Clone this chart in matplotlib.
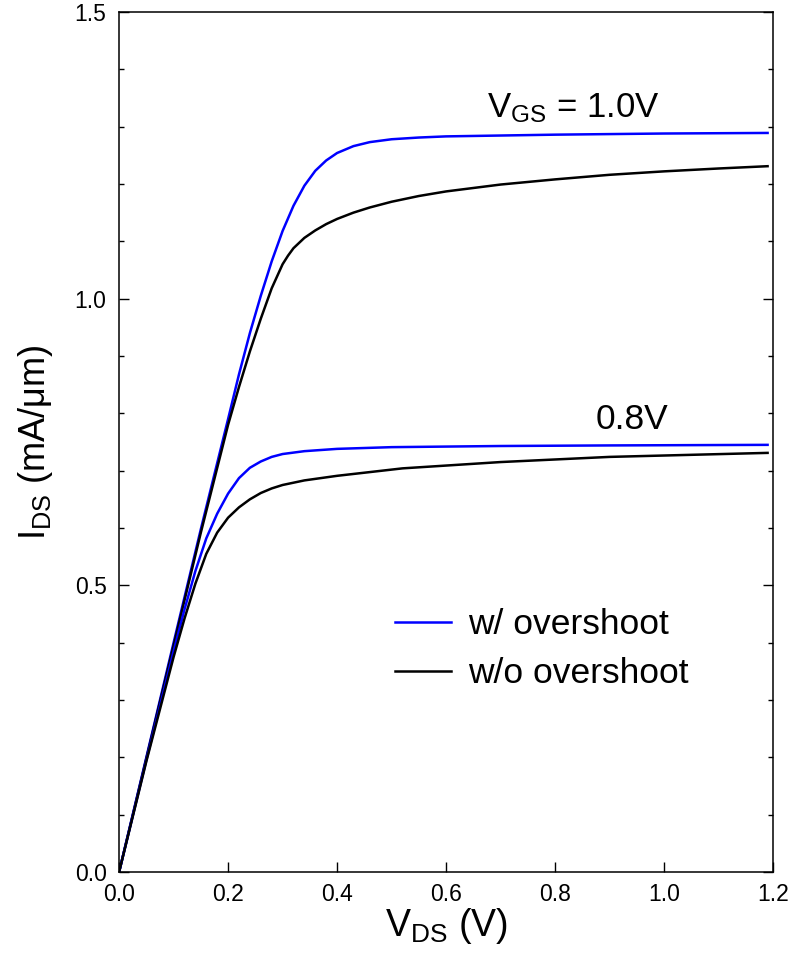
import matplotlib
matplotlib.use("Agg")
import matplotlib.pyplot as plt
from matplotlib.ticker import MultipleLocator

plt.rcParams['font.family'] = ['Liberation Sans', 'DejaVu Sans']
plt.rcParams['mathtext.fontset'] = 'custom'
plt.rcParams['mathtext.rm'] = 'Liberation Sans'
plt.rcParams['mathtext.it'] = 'Liberation Sans'

# values (V_DS in V, I_DS in mA/um)
vds_w10 = [0, 0.05, 0.10, 0.15, 0.20, 0.22, 0.24, 0.26, 0.28, 0.30, 0.32,
           0.34, 0.36, 0.38, 0.40, 0.43, 0.46, 0.50, 0.55, 0.60, 0.80, 1.00,
           1.19]
ids_w10 = [0, 0.200, 0.400, 0.598, 0.790, 0.868, 0.940, 1.005, 1.065, 1.118,
           1.162, 1.197, 1.223, 1.241, 1.254, 1.266, 1.273, 1.278, 1.281,
           1.283, 1.286, 1.288, 1.289]

vds_wo10 = [0, 0.05, 0.10, 0.15, 0.20, 0.22, 0.24, 0.26, 0.28, 0.30, 0.31,
            0.32, 0.34, 0.36, 0.38, 0.40, 0.43, 0.46, 0.50, 0.55, 0.60, 0.70,
            0.80, 0.90, 1.00, 1.10, 1.19]
ids_wo10 = [0, 0.198, 0.395, 0.592, 0.780, 0.846, 0.908, 0.965, 1.018, 1.060,
            1.075, 1.088, 1.106, 1.119, 1.130, 1.139, 1.150, 1.159, 1.169,
            1.179, 1.187, 1.199, 1.208, 1.216, 1.222, 1.227, 1.231]

vds_w08 = [0, 0.05, 0.10, 0.12, 0.14, 0.16, 0.18, 0.20, 0.22, 0.24, 0.26,
           0.28, 0.30, 0.34, 0.40, 0.50, 0.70, 0.90, 1.19]
ids_w08 = [0, 0.195, 0.385, 0.458, 0.525, 0.582, 0.625, 0.660, 0.687, 0.705,
           0.716, 0.724, 0.729, 0.734, 0.738, 0.741, 0.743, 0.744, 0.745]

vds_wo08 = [0, 0.05, 0.10, 0.12, 0.14, 0.16, 0.18, 0.20, 0.22, 0.24, 0.26,
            0.28, 0.30, 0.34, 0.40, 0.52, 0.70, 0.90, 1.19]
ids_wo08 = [0, 0.193, 0.375, 0.442, 0.503, 0.555, 0.592, 0.618, 0.636, 0.650,
            0.661, 0.669, 0.675, 0.683, 0.691, 0.704, 0.715, 0.724, 0.731]

fig = plt.figure(figsize=(7.94, 9.57), dpi=100)
ax = fig.add_axes([0.150, 0.0888, 0.8236, 0.8987])

lw = 1.8
ax.plot(vds_w10, ids_w10, color='#0000ff', lw=lw, label='w/ overshoot')
ax.plot(vds_wo10, ids_wo10, color='black', lw=lw, label='w/o overshoot')
ax.plot(vds_w08, ids_w08, color='#0000ff', lw=lw)
ax.plot(vds_wo08, ids_wo08, color='black', lw=lw)

ax.set_xlim(0, 1.2)
ax.set_ylim(0, 1.5)
ax.xaxis.set_major_locator(MultipleLocator(0.2))
ax.yaxis.set_major_locator(MultipleLocator(0.5))
ax.yaxis.set_minor_locator(MultipleLocator(0.1))
ax.xaxis.set_major_formatter(plt.FuncFormatter(lambda v, p: f"{v:.1f}"))
ax.yaxis.set_major_formatter(plt.FuncFormatter(lambda v, p: f"{v:.1f}"))

ax.tick_params(axis='both', which='both', direction='in', labelsize=16.5,
               width=1.0)
ax.tick_params(axis='y', which='both', left=True, right=True)
ax.tick_params(axis='y', which='major', length=7, pad=9)
ax.tick_params(axis='y', which='minor', length=3.6)
ax.tick_params(axis='x', which='major', length=7, pad=8, top=False)
for s in ax.spines.values():
    s.set_linewidth(1.1)

ax.set_xlabel(r'V$_{\mathregular{DS}}$ (V)', fontsize=27, labelpad=0)
ax.set_ylabel(r'I$_{\mathregular{DS}}$ (mA/μm)', fontsize=26, labelpad=14)

ax.text(0.675, 1.317, r'V$_{\mathregular{GS}}$ = 1.0V', fontsize=25)
ax.text(0.874, 0.772, '0.8V', fontsize=25.5)

ax.legend(loc='upper left', bbox_to_anchor=(0.40, 0.323), frameon=False,
          fontsize=25.5, handlelength=1.58, handletextpad=0.48,
          labelspacing=0.44, borderaxespad=0)

fig.savefig('out.png', dpi=100)
